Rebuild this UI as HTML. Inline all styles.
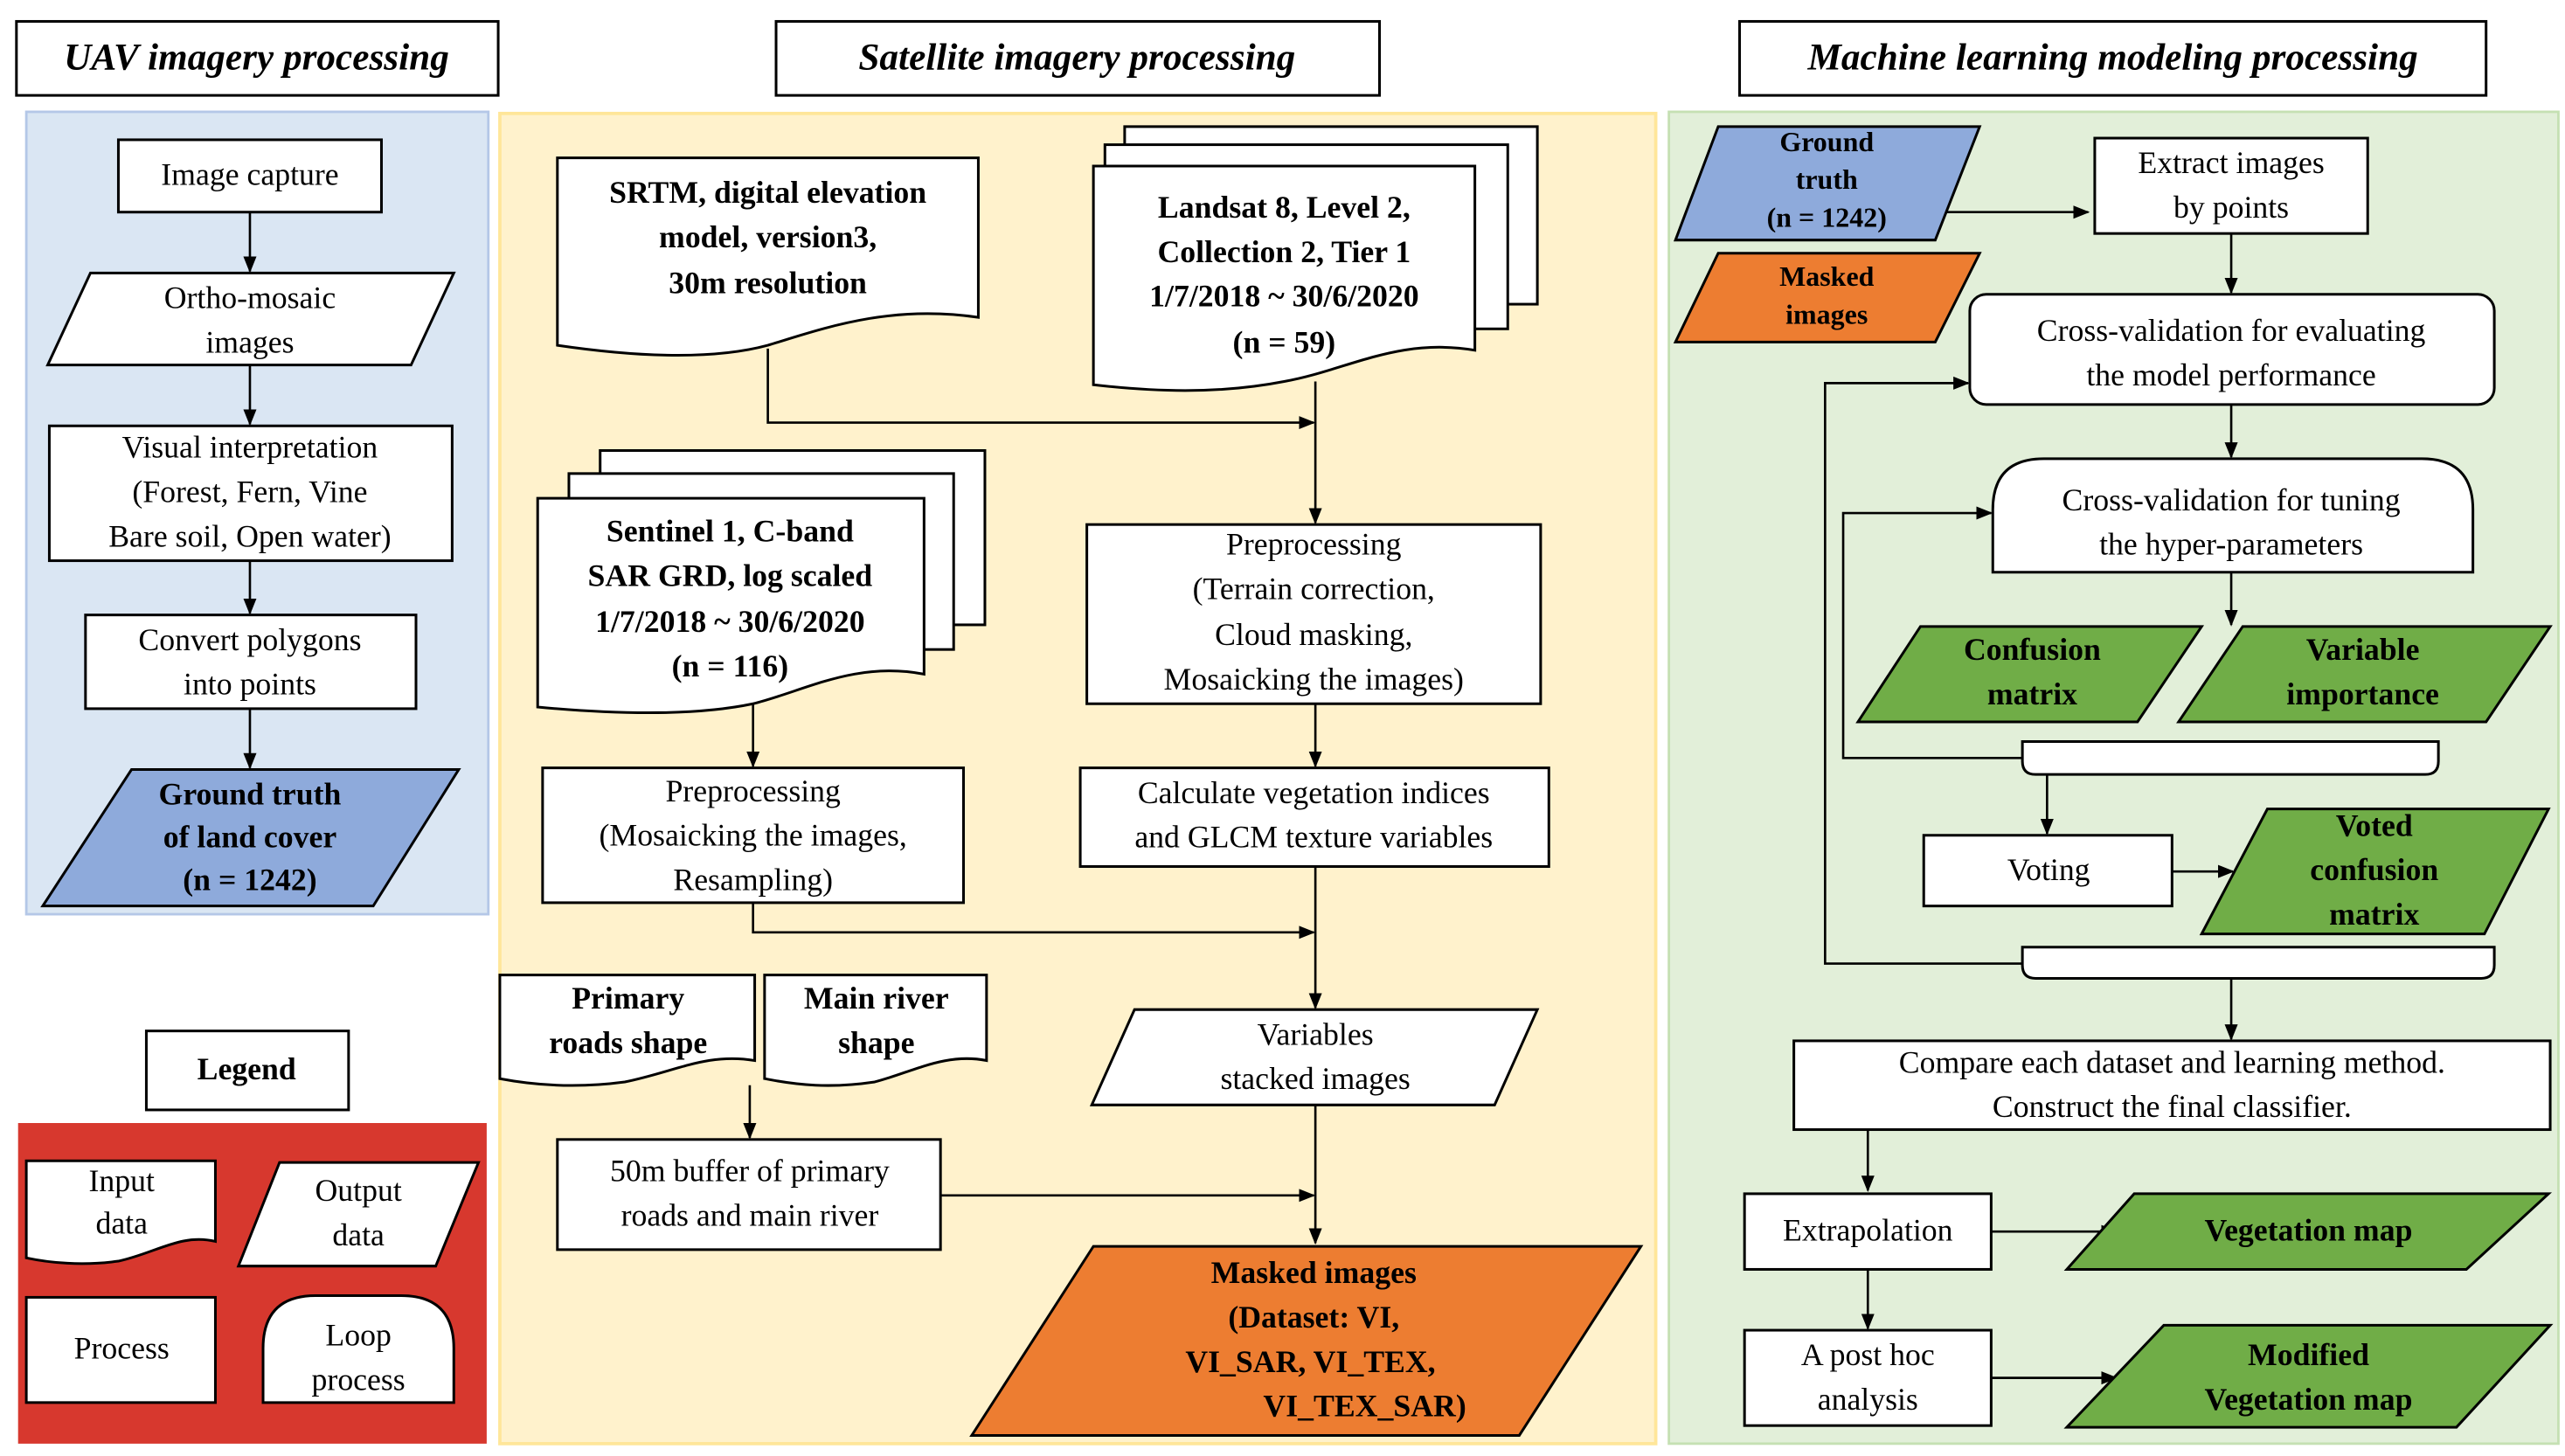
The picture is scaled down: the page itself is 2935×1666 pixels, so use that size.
<!DOCTYPE html>
<html><head><meta charset="utf-8"><style>
html,body{margin:0;padding:0;background:#fff;}
svg{display:block;}
text{font-family:"Liberation Serif",serif;font-size:19px;fill:#000;text-anchor:middle;dominant-baseline:middle;}
.b{font-weight:bold;}
.t{font-weight:bold;font-style:italic;font-size:23px;}
.s{stroke:#000;stroke-width:1.6;}
</style></head><body>
<svg width="2935" height="1666" viewBox="0 0 1560 885.5" xmlns="http://www.w3.org/2000/svg">
<defs><marker id="a" markerWidth="10" markerHeight="10" refX="9" refY="5" orient="auto" markerUnits="userSpaceOnUse"><path d="M0,1 L10,5 L0,9 Z" fill="#000"/></marker></defs>
<rect width="1560" height="886" fill="#fff"/>
<!-- titles -->
<rect x="10" y="13" width="293" height="45" fill="#fff" class="s"/>
<text x="156" y="37" class="t">UAV imagery processing</text>
<rect x="472" y="13" width="367" height="45" fill="#fff" class="s"/>
<text x="655" y="37" class="t">Satellite imagery processing</text>
<rect x="1058" y="13" width="454" height="45" fill="#fff" class="s"/>
<text x="1285" y="37" class="t">Machine learning modeling processing</text>
<!-- panels -->
<rect x="16" y="68" width="281" height="488" fill="#dae6f3" stroke="#b4c7e7" stroke-width="1.5"/>
<rect x="304" y="69" width="703" height="809" fill="#fff2cc" stroke="#ffe699" stroke-width="2"/>
<rect x="1015" y="68" width="541" height="810" fill="#e2efd9" stroke="#c5e0b3" stroke-width="1.5"/>

<g fill="none" stroke="#000" stroke-width="1.4">
<!-- col1 arrows -->
<line x1="152" y1="129" x2="152" y2="165" marker-end="url(#a)"/>
<line x1="152" y1="222" x2="152" y2="258" marker-end="url(#a)"/>
<line x1="152" y1="341" x2="152" y2="373" marker-end="url(#a)"/>
<line x1="152" y1="431" x2="152" y2="467" marker-end="url(#a)"/>
<!-- col2 -->
<polyline points="467,212 467,257 799,257" marker-end="url(#a)"/>
<line x1="800" y1="232" x2="800" y2="318" marker-end="url(#a)"/>
<line x1="800" y1="428" x2="800" y2="466" marker-end="url(#a)"/>
<line x1="458" y1="428" x2="458" y2="466" marker-end="url(#a)"/>
<polyline points="458,549 458,567 799,567" marker-end="url(#a)"/>
<line x1="800" y1="527" x2="800" y2="613" marker-end="url(#a)"/>
<line x1="800" y1="672" x2="800" y2="756" marker-end="url(#a)"/>
<line x1="456" y1="660" x2="456" y2="692" marker-end="url(#a)"/>
<line x1="572" y1="727" x2="799" y2="727" marker-end="url(#a)"/>
<!-- col3 -->
<line x1="1180" y1="129" x2="1270" y2="129" marker-end="url(#a)"/>
<line x1="1357" y1="142" x2="1357" y2="178" marker-end="url(#a)"/>
<line x1="1357" y1="246" x2="1357" y2="278" marker-end="url(#a)"/>
<line x1="1357" y1="348" x2="1357" y2="380" marker-end="url(#a)"/>
<polyline points="1230,461 1121,461 1121,312 1211,312" marker-end="url(#a)"/>
<line x1="1245" y1="471" x2="1245" y2="507" marker-end="url(#a)"/>
<line x1="1321" y1="530" x2="1358" y2="530" marker-end="url(#a)"/>
<polyline points="1230,586 1110,586 1110,233 1197,233" marker-end="url(#a)"/>
<line x1="1357" y1="595" x2="1357" y2="632" marker-end="url(#a)"/>
<line x1="1136" y1="687" x2="1136" y2="724" marker-end="url(#a)"/>
<line x1="1211" y1="749" x2="1287" y2="749" marker-end="url(#a)"/>
<line x1="1136" y1="772" x2="1136" y2="808" marker-end="url(#a)"/>
<line x1="1211" y1="838" x2="1287" y2="838" marker-end="url(#a)"/>
</g>

<!-- col1 shapes -->
<rect x="72" y="85" width="160" height="44" fill="#fff" class="s"/>
<text x="152" y="108">Image capture</text>
<polygon points="55,166 276,166 250,222 29,222" fill="#fff" class="s"/>
<text x="152" y="183">Ortho-mosaic</text><text x="152" y="210">images</text>
<rect x="30" y="259" width="245" height="82" fill="#fff" class="s"/>
<text x="152" y="274">Visual interpretation</text><text x="152" y="301">(Forest, Fern, Vine</text><text x="152" y="328">Bare soil, Open water)</text>
<rect x="52" y="374" width="201" height="57" fill="#fff" class="s"/>
<text x="152" y="391">Convert polygons</text><text x="152" y="418">into points</text>
<polygon points="80,468 279,468 227,551 26,551" fill="#8eaadb" class="s"/>
<g class="b"><text x="152" y="485" class="b">Ground truth</text><text x="152" y="511" class="b">of land cover</text><text x="152" y="537" class="b">(n = 1242)</text></g>

<!-- legend -->
<rect x="89" y="627" width="123" height="48" fill="#fff" class="s"/>
<text x="150" y="652" class="b">Legend</text>
<rect x="11" y="683" width="285" height="195" fill="#d7382e"/>
<path d="M16,706 H131 V755 C110,750 95,762 72,767 C50,770 30,768 16,765 Z" fill="#fff" class="s"/>
<text x="74" y="720">Input</text><text x="74" y="746">data</text>
<polygon points="170,707 291,707 265,770 145,770" fill="#fff" class="s"/>
<text x="218" y="726">Output</text><text x="218" y="753">data</text>
<rect x="16" y="789" width="115" height="64" fill="#fff" class="s"/>
<text x="74" y="822">Process</text>
<path d="M160,853 V820 Q160,788 192,788 H244 Q276,788 276,820 V853 Z" fill="#fff" class="s"/>
<text x="218" y="814">Loop</text><text x="218" y="841">process</text>

<!-- col2 shapes -->
<path d="M339,96 H595 V193 C540,185 500,200 467,210 C430,220 380,216 339,210 Z" fill="#fff" class="s"/>
<text x="467" y="119" class="b">SRTM, digital elevation</text><text x="467" y="146" class="b">model, version3,</text><text x="467" y="174" class="b">30m resolution</text>
<rect x="684" y="77" width="251" height="108" fill="#fff" class="s"/>
<rect x="672" y="88" width="245" height="112" fill="#fff" class="s"/>
<path d="M665,101 H897 V213 C850,205 820,225 781,232 C740,240 700,238 665,234 Z" fill="#fff" class="s"/>
<text x="781" y="128" class="b">Landsat 8, Level 2,</text><text x="781" y="155" class="b">Collection 2, Tier 1</text><text x="781" y="182" class="b">1/7/2018 ~ 30/6/2020</text><text x="781" y="210" class="b">(n = 59)</text>
<rect x="365" y="274" width="234" height="106" fill="#fff" class="s"/>
<rect x="346" y="288" width="234" height="107" fill="#fff" class="s"/>
<path d="M327,303 H562 V410 C520,402 490,420 458,428 C420,436 370,434 327,430 Z" fill="#fff" class="s"/>
<text x="444" y="325" class="b">Sentinel 1, C-band</text><text x="444" y="352" class="b">SAR GRD, log scaled</text><text x="444" y="380" class="b">1/7/2018 ~ 30/6/2020</text><text x="444" y="407" class="b">(n = 116)</text>
<rect x="661" y="319" width="276" height="109" fill="#fff" class="s"/>
<text x="799" y="333">Preprocessing</text><text x="799" y="360">(Terrain correction,</text><text x="799" y="388">Cloud masking,</text><text x="799" y="415">Mosaicking the images)</text>
<rect x="657" y="467" width="285" height="60" fill="#fff" class="s"/>
<text x="799" y="484">Calculate vegetation indices</text><text x="799" y="511">and GLCM texture variables</text>
<rect x="330" y="467" width="256" height="82" fill="#fff" class="s"/>
<text x="458" y="483">Preprocessing</text><text x="458" y="510">(Mosaicking the images,</text><text x="458" y="537">Resampling)</text>
<polygon points="690,614 935,614 909,672 664,672" fill="#fff" class="s"/>
<text x="800" y="631">Variables</text><text x="800" y="658">stacked images</text>
<path d="M304,593 H459 V645 C430,640 410,652 380,658 C350,662 325,660 304,656 Z" fill="#fff" class="s"/>
<text x="382" y="609" class="b">Primary</text><text x="382" y="636" class="b">roads shape</text>
<path d="M465,593 H600 V645 C575,640 555,652 532,658 C505,662 485,660 465,656 Z" fill="#fff" class="s"/>
<text x="533" y="609" class="b">Main river</text><text x="533" y="636" class="b">shape</text>
<rect x="339" y="693" width="233" height="67" fill="#fff" class="s"/>
<text x="456" y="714">50m buffer of primary</text><text x="456" y="741">roads and main river</text>
<polygon points="665,758 998,758 924,873 591,873" fill="#ed7d31" class="s"/>
<text x="799" y="776" class="b">Masked images</text><text x="799" y="803" class="b">(Dataset: VI,</text><text x="797" y="830" class="b">VI_SAR, VI_TEX,</text><text x="830" y="857" class="b">VI_TEX_SAR)</text>

<!-- col3 shapes -->
<polygon points="1045,77 1204,77 1177,146 1019,146" fill="#8eaadb" class="s"/>
<text x="1111" y="88" class="b" style="font-size:17px">Ground</text><text x="1111" y="111" class="b" style="font-size:17px">truth</text><text x="1111" y="134" class="b" style="font-size:17px">(n = 1242)</text>
<polygon points="1045,154 1204,154 1177,208 1019,208" fill="#ed7d31" class="s"/>
<text x="1111" y="170" class="b" style="font-size:17px">Masked</text><text x="1111" y="193" class="b" style="font-size:17px">images</text>
<rect x="1274" y="84" width="166" height="58" fill="#fff" class="s"/>
<text x="1357" y="101">Extract images</text><text x="1357" y="128">by points</text>
<rect x="1198" y="179" width="319" height="67" rx="10" fill="#fff" class="s"/>
<text x="1357" y="203">Cross-validation for evaluating</text><text x="1357" y="230">the model performance</text>
<path d="M1212,348 V310 Q1212,279 1243,279 H1473 Q1504,279 1504,310 V348 Z" fill="#fff" class="s"/>
<text x="1357" y="306">Cross-validation for tuning</text><text x="1357" y="333">the hyper-parameters</text>
<polygon points="1168,381 1339,381 1300,439 1130,439" fill="#70ad47" class="s"/>
<text x="1236" y="397" class="b">Confusion</text><text x="1236" y="424" class="b">matrix</text>
<polygon points="1364,381 1551,381 1512,439 1325,439" fill="#70ad47" class="s"/>
<text x="1437" y="397" class="b">Variable</text><text x="1437" y="424" class="b">importance</text>
<path d="M1230,451 H1483 V463 Q1483,471 1475,471 H1238 Q1230,471 1230,463 Z" fill="#fff" class="s"/>
<rect x="1170" y="508" width="151" height="43" fill="#fff" class="s"/>
<text x="1246" y="531">Voting</text>
<polygon points="1379,492 1550,492 1511,568 1339,568" fill="#70ad47" class="s"/>
<text x="1444" y="504" class="b">Voted</text><text x="1444" y="531" class="b">confusion</text><text x="1444" y="558" class="b">matrix</text>
<path d="M1230,576 H1517 V587 Q1517,595 1509,595 H1238 Q1230,595 1230,587 Z" fill="#fff" class="s"/>
<rect x="1091" y="633" width="460" height="54" fill="#fff" class="s"/>
<text x="1321" y="648">Compare each dataset and learning method.</text><text x="1321" y="675">Construct the final classifier.</text>
<rect x="1061" y="726" width="150" height="46" fill="#fff" class="s"/>
<text x="1136" y="750">Extrapolation</text>
<polygon points="1298,726 1550,726 1500,772 1257,772" fill="#70ad47" class="s"/>
<text x="1404" y="750" class="b">Vegetation map</text>
<rect x="1061" y="809" width="150" height="58" fill="#fff" class="s"/>
<text x="1136" y="826">A post hoc</text><text x="1136" y="853">analysis</text>
<polygon points="1316,806 1551,806 1494,868 1257,868" fill="#70ad47" class="s"/>
<text x="1404" y="826" class="b">Modified</text><text x="1404" y="853" class="b">Vegetation map</text>
</svg>
</body></html>
